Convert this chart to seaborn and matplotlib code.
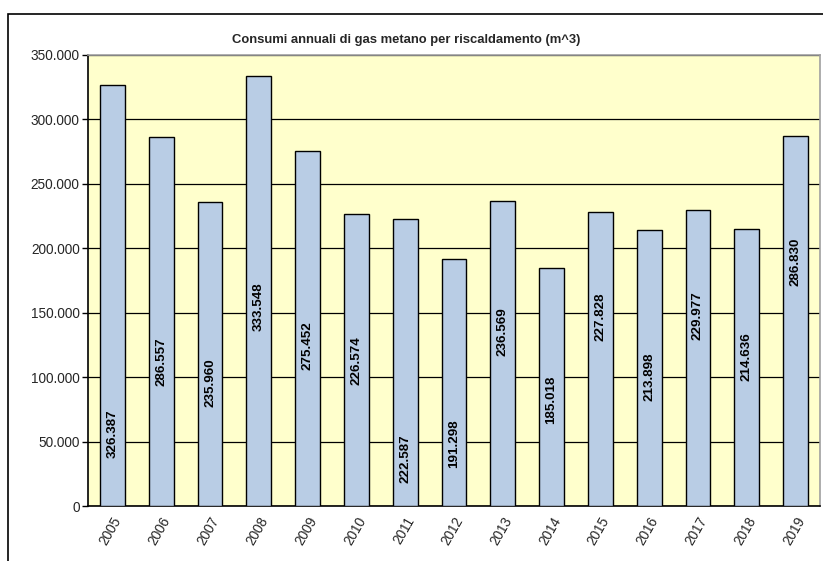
import numpy
import pandas
import seaborn as sns
import matplotlib.pyplot as plt
import matplotlib.patches as patches
from matplotlib.ticker import FuncFormatter, FixedLocator


# Annual consumption per year (m^3).
years = ['2005', '2006', '2007', '2008', '2009', '2010', '2011', '2012',
         '2013', '2014', '2015', '2016', '2017', '2018', '2019']
consumption = [326387, 286557, 235960, 333548, 275452, 226574, 222587, 191298,
               236569, 185018, 227828, 213898, 229977, 214636, 286830]

# Heights where each value label sits inside its bar (data units).
label_heights = [56000, 111700, 95400, 154400, 124200, 112500, 36500, 48100,
                 135000, 82300, 146700, 100100, 147400, 115600, 189300]

title = 'Consumi annuali di gas metano per riscaldamento (m^3)'


def thousands_dot(v, pos):
    # Italian style thousands separator.
    return f'{v:,.0f}'.replace(',', '.')


def plot_consumption():
    sns.set_theme(style = 'white')
    plt.rcParams['font.family'] = ['Liberation Sans', 'DejaVu Sans']

    df = pandas.DataFrame({'year': years, 'consumption': consumption})

    fig = plt.figure(figsize = (8.23, 5.61), dpi = 100)
    ax = fig.add_axes([88 / 823, 1 - 506 / 561, (820 - 88) / 823, (506 - 55) / 561])

    # Outer chart frame, cut off on the right and bottom like the original.
    frame = patches.Rectangle(
        (8 / 823, -0.1), 1.2, 1 - 14 / 561 + 0.1,
        transform = fig.transFigure, fill = False,
        edgecolor = 'black', linewidth = 1.2, clip_on = False
    )
    fig.patches.append(frame)

    ax.set_facecolor('#FFFFCC')
    sns.barplot(
        data = df, x = 'year', y = 'consumption', ax = ax,
        color = '#B9CDE5', saturation = 1, width = 0.51,
        edgecolor = 'black', linewidth = 1, zorder = 3
    )

    # Value labels, rotated inside the bars.
    for i, (v, h) in enumerate(zip(consumption, label_heights)):
        ax.text(
            i, h, thousands_dot(v, None), rotation = 90,
            ha = 'center', va = 'center', fontsize = 9.6,
            fontweight = 'bold', color = 'black', zorder = 4
        )

    ax.set_ylim(0, 350000)
    ax.set_xlim(-0.5, len(years) - 0.5)
    ax.yaxis.set_major_locator(FixedLocator(numpy.arange(0, 350001, 50000)))
    ax.yaxis.set_major_formatter(FuncFormatter(thousands_dot))
    ax.grid(axis = 'y', color = 'black', linewidth = 0.9, zorder = 0)
    ax.set_axisbelow(True)

    # Tick marks between categories, labels at the centres.
    ax.set_xticks(numpy.arange(len(years)))
    ax.set_xticks(numpy.arange(len(years) + 1) - 0.5, minor = True)
    ax.tick_params(axis = 'x', which = 'major', length = 0, pad = 6)
    ax.tick_params(axis = 'x', which = 'minor', length = 4, width = 1,
                   color = 'black', direction = 'out')
    ax.tick_params(axis = 'y', length = 4, width = 1, color = 'black',
                   direction = 'out', left = True, labelsize = 9.8, pad = 2)
    plt.setp(ax.get_xticklabels(), rotation = 60, ha = 'right',
             rotation_mode = 'anchor', fontsize = 9.8)

    ax.set_xlabel(None)
    ax.set_ylabel(None)

    for side in ['left', 'bottom']:
        ax.spines[side].set_color('black')
        ax.spines[side].set_linewidth(1.2)
    for side in ['top', 'right']:
        ax.spines[side].set_color('#A0A0A0')
        ax.spines[side].set_linewidth(1.2)

    fig.text(406 / 823, 1 - 40 / 561, title, ha = 'center', va = 'center',
             fontsize = 9.4, fontweight = 'bold')

    fig.savefig('out.png', dpi = 100, facecolor = 'white')

    return


plot_consumption()
